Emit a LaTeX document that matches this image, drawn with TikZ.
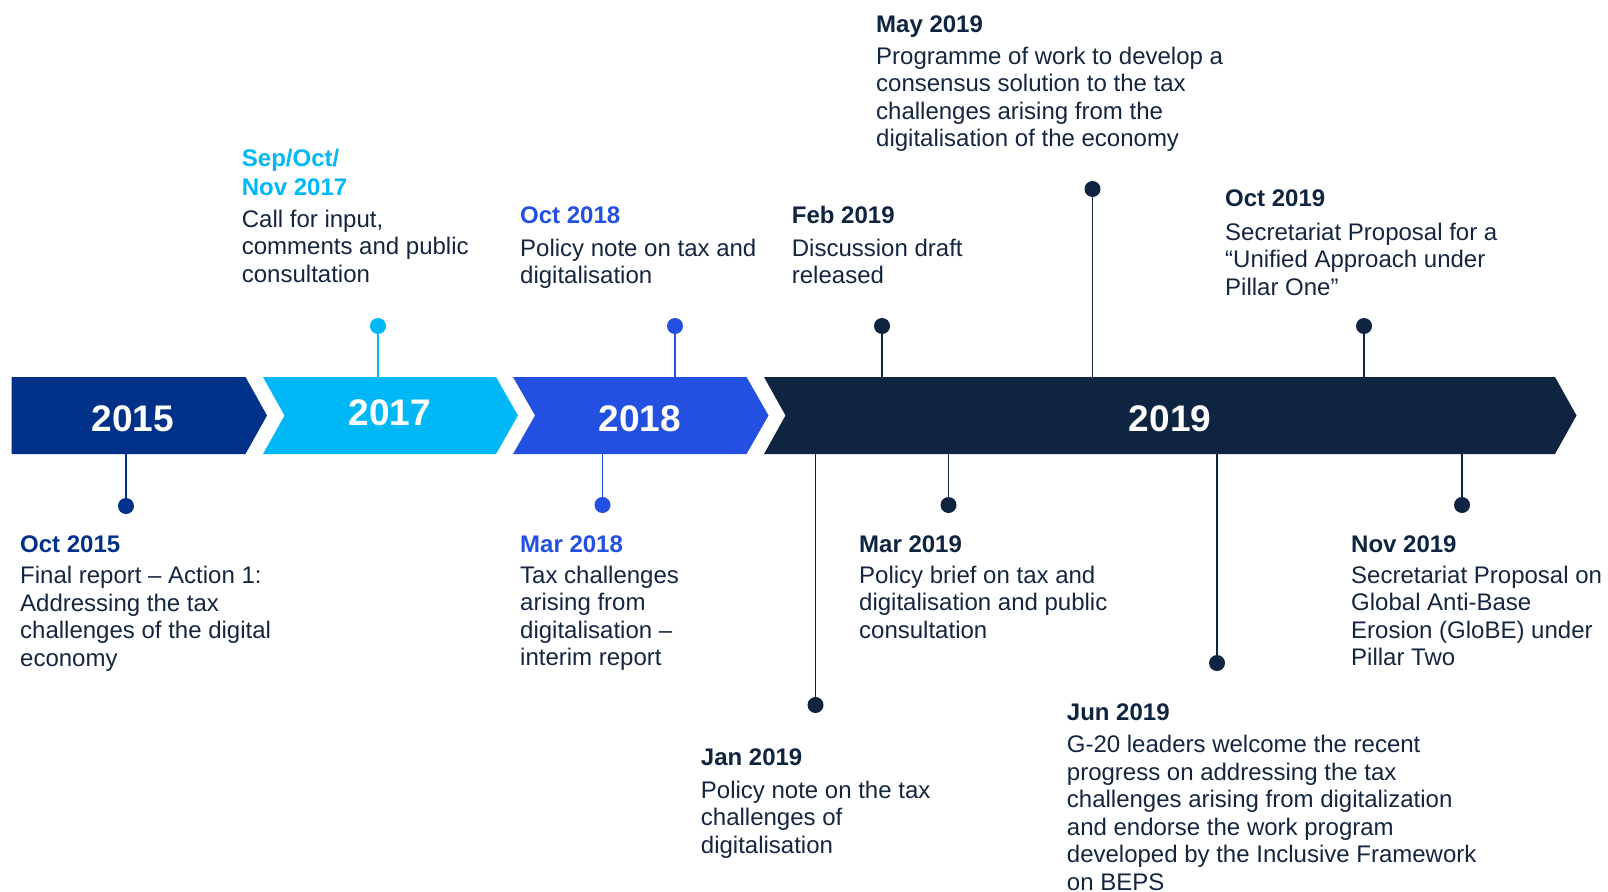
\documentclass[tikz,border=0pt]{standalone}
\usepackage{fontspec}
\setmainfont{Liberation Sans}
\usepackage{tikz}

\definecolor{c15}{HTML}{003189}
\definecolor{c17}{HTML}{00B8F5}
\definecolor{c18}{HTML}{2350E0}
\definecolor{c19}{HTML}{0E2440}
\definecolor{ink}{HTML}{14263F}

\newcommand\evlines[1]{\begin{tabular}[t]{@{}l@{}}#1\end{tabular}}

\begin{document}
\begin{tikzpicture}[x=1bp, y=-1bp,
  ev/.style={anchor=base west, inner sep=0pt, text=ink,
    font=\fontsize{24bp}{27.5bp}\selectfont},
  yr/.style={anchor=base, text=white, font=\fontsize{37bp}{40bp}\selectfont\bfseries},
  dot/.style={circle, inner sep=0pt, minimum size=16bp},
  stem/.style={line width=1.3bp}]

\useasboundingbox (0,0) rectangle (1608,891);

% the bar
\fill [c15] (11.7,377) -- (245.5,377) -- (267,415.5) -- (245.5,454) -- (11.7,454) -- cycle;
\fill [c17] (263,377) -- (496,377) -- (518,415.5) -- (496,454) -- (263,454) -- (284.5,415.5) -- cycle;
\fill [c18] (513,377) -- (746.5,377) -- (768.5,415.5) -- (746.5,454) -- (513,454) -- (535,415.5) -- cycle;
\fill [c19] (764,377) -- (1555,377) -- (1576.5,415.5) -- (1555,454) -- (764,454) -- (785.5,415.5) -- cycle;

\node [yr] (y2015) at (133,431) {2015};
\node [yr] (y2017) at (390,425) {2017};
\node [yr] (y2018) at (640,431) {2018};
\node [yr] (y2019) at (1170,431) {2019};

% dots above the bar
\node [dot, fill=c17] (d1711) at (378,326) {};
\node [dot, fill=c18] (d1810) at (675,326) {};
\node [dot, fill=c19] (d1902) at (882,326) {};
\node [dot, fill=c19] (d1905) at (1092.5,189) {};
\node [dot, fill=c19] (d1910) at (1364,326) {};

% dots below the bar
\node [dot, fill=c15] (d1510) at (126,506) {};
\node [dot, fill=c18] (d1803) at (602.5,505) {};
\node [dot, fill=c19] (d1901) at (815.5,705) {};
\node [dot, fill=c19] (d1903) at (948.5,505) {};
\node [dot, fill=c19] (d1906) at (1217,663) {};
\node [dot, fill=c19] (d1911) at (1462,505) {};

\coordinate (b1711) at (378,377);
\coordinate (b1810) at (675,377);
\coordinate (b1902) at (882,377);
\coordinate (b1905) at (1092.5,377);
\coordinate (b1910) at (1364,377);
\coordinate (b1510) at (126,454);
\coordinate (b1803) at (602.5,454);
\coordinate (b1901) at (815.5,454);
\coordinate (b1903) at (948.5,454);
\coordinate (b1906) at (1217,454);
\coordinate (b1911) at (1462,454);

\draw [stem, c17] (d1711) -- (b1711);
\draw [stem, c18] (d1810) -- (b1810);
\draw [stem, c19] (d1902) -- (b1902);
\draw [stem, c19] (d1905) -- (b1905);
\draw [stem, c19] (d1910) -- (b1910);
\draw [stem, c15] (d1510) -- (b1510);
\draw [stem, c18] (d1803) -- (b1803);
\draw [stem, c19] (d1901) -- (b1901);
\draw [stem, c19] (d1903) -- (b1903);
\draw [stem, c19] (d1906) -- (b1906);
\draw [stem, c19] (d1911) -- (b1911);

% texts above
\node [ev] (t1711) at (241.7,166) {\evlines{\textcolor{c17}{\bfseries Sep/Oct/}\\[1.5bp]
  \textcolor{c17}{\bfseries Nov 2017}\\[4.5bp]
  Call for input,\\ comments and public\\ consultation}};
\node [ev] (t1810) at (520,223.3) {\evlines{\textcolor{c18}{\bfseries Oct 2018}\\[5.5bp]
  Policy note on tax and\\ digitalisation}};
\node [ev] (t1902) at (791.7,223.3) {\evlines{\textcolor{c19}{\bfseries Feb 2019}\\[5.5bp]
  Discussion draft\\ released}};
\node [ev] (t1905) at (876,32.3) {\evlines{\textcolor{c19}{\bfseries May 2019}\\[4.5bp]
  Programme of work to develop a\\ consensus solution to the tax\\
  challenges arising from the\\ digitalisation of the economy}};
\node [ev] (t1910) at (1225,206.7) {\evlines{\textcolor{c19}{\bfseries Oct 2019}\\[6bp]
  Secretariat Proposal for a\\ “Unified Approach under\\ Pillar One”}};

% texts below
\node [ev] (t1510) at (20,552) {\evlines{\textcolor{c15}{\bfseries Oct 2015}\\[4bp]
  Final report – Action 1:\\ Addressing the tax\\ challenges of the digital\\ economy}};
\node [ev] (t1803) at (520,552.7) {\evlines{\textcolor{c18}{\bfseries Mar 2018}\\[3bp]
  Tax challenges\\ arising from\\ digitalisation –\\ interim report}};
\node [ev] (t1901) at (700.7,765) {\evlines{\textcolor{c19}{\bfseries Jan 2019}\\[5.5bp]
  Policy note on the tax\\ challenges of\\ digitalisation}};
\node [ev] (t1903) at (859,552.7) {\evlines{\textcolor{c19}{\bfseries Mar 2019}\\[3bp]
  Policy brief on tax and\\ digitalisation and public\\ consultation}};
\node [ev] (t1906) at (1066.7,720) {\evlines{\textcolor{c19}{\bfseries Jun 2019}\\[5bp]
  G-20 leaders welcome the recent\\ progress on addressing the tax\\
  challenges arising from digitalization\\ and endorse the work program\\
  developed by the Inclusive Framework\\ on BEPS}};
\node [ev] (t1911) at (1351,552.7) {\evlines{\textcolor{c19}{\bfseries Nov 2019}\\[3bp]
  Secretariat Proposal on\\ Global Anti-Base\\ Erosion (GloBE) under\\ Pillar Two}};

\end{tikzpicture}
\end{document}
